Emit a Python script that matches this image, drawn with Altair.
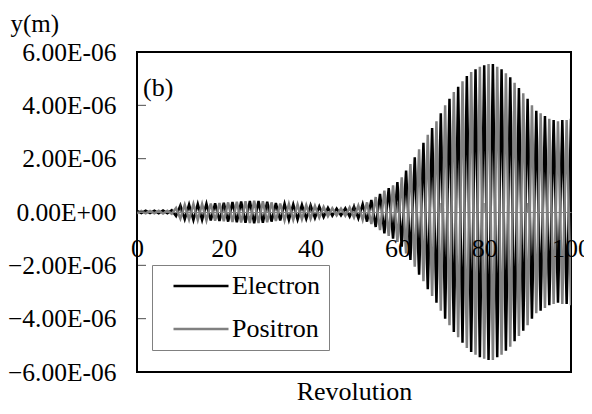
import altair as alt
import pandas as pd

# ---------------- data ----------------
revolution = list(range(0, 101))

# vertical offset y in micrometres, one sample per revolution
electron_um = [
    0.04, -0.04, 0.05, -0.04, 0.05, -0.05, 0.06, -0.05, 0.07, -0.15,
    0.25, -0.27, 0.28, -0.30, 0.30, -0.30, 0.31, -0.32, 0.33, -0.34,
    0.35, -0.36, 0.37, -0.38, 0.39, -0.40, 0.41, -0.42, 0.41, -0.40,
    0.38, -0.36, 0.34, -0.32, 0.31, -0.30, 0.29, -0.28, 0.27, -0.26,
    0.25, -0.23, 0.21, -0.19, 0.16, -0.14, 0.13, -0.13, 0.14, -0.17,
    0.20, -0.24, 0.29, -0.36, 0.45, -0.56, 0.68, -0.80, 0.90, -1.00,
    1.12, -1.30, 1.55, -1.80, 2.05, -2.35, 2.60, -2.90, 3.15, -3.40,
    3.70, -4.00, 4.25, -4.50, 4.70, -4.90, 5.10, -5.25, 5.35, -5.45,
    5.50, -5.55, 5.55, -5.45, 5.35, -5.20, 5.05, -4.85, 4.65, -4.45,
    4.25, -4.00, 3.80, -3.70, 3.60, -3.50, 3.45, -3.40, 3.45, -3.45,
    3.50,
]
positron_um = [
    -0.04, 0.04, -0.05, 0.04, -0.05, 0.05, -0.06, 0.05, -0.07, 0.15,
    -0.25, 0.27, -0.28, 0.30, -0.30, 0.30, -0.31, 0.32, -0.33, 0.34,
    -0.35, 0.36, -0.37, 0.38, -0.39, 0.40, -0.41, 0.42, -0.41, 0.40,
    -0.38, 0.36, -0.34, 0.32, -0.31, 0.30, -0.29, 0.28, -0.27, 0.26,
    -0.25, 0.23, -0.21, 0.19, -0.16, 0.14, -0.13, 0.13, -0.14, 0.17,
    -0.20, 0.24, -0.29, 0.36, -0.45, 0.56, -0.68, 0.80, -0.90, 1.00,
    -1.12, 1.30, -1.55, 1.80, -2.05, 2.35, -2.60, 2.90, -3.15, 3.40,
    -3.70, 4.00, -4.25, 4.50, -4.70, 4.90, -5.10, 5.25, -5.35, 5.45,
    -5.50, 5.55, -5.55, 5.45, -5.35, 5.20, -5.05, 4.85, -4.65, 4.45,
    -4.25, 4.00, -3.80, 3.70, -3.60, 3.50, -3.45, 3.40, -3.45, 3.45,
    -3.50,
]

series_names = ["Electron", "Positron"]
series_colors = ["#000000", "#808080"]
panel_label = "(b)"

y_tick_values_um = [-6, -4, -2, 0, 2, 4, 6]
x_label_values = [0, 20, 40, 60, 80, 100]
x_minor_ticks = [10, 20, 30, 40, 50, 60, 70, 80, 90]

FONT = "Liberation Serif"
FS = 26
W, H = 434, 320

# ---------------- tables ----------------
rows = []
for name, vals in zip(series_names, [electron_um, positron_um]):
    for r, v in zip(revolution, vals):
        rows.append({"rev": r, "y": v * 1e-6, "series": name})
df = pd.DataFrame(rows)

yt = pd.DataFrame({"y": [v * 1e-6 for v in y_tick_values_um]})
xt = pd.DataFrame({"rev": x_minor_ticks})

xscale = alt.Scale(domain=[0, 100], nice=False, zero=False)
yscale = alt.Scale(domain=[-6e-6, 6e-6], nice=False, zero=False)

x_axis = alt.Axis(
    values=x_label_values,
    title="Revolution",
    titleFont=FONT,
    titleFontSize=FS,
    titleFontWeight="normal",
    titleColor="black",
    titleY=187,
    titleBaseline="alphabetic",
    labelFont=FONT,
    labelFontSize=FS,
    labelColor="black",
    labelPadding=23,
    labelFlush=False,
    labelOverlap=False,
    ticks=False,
    grid=False,
    domainColor="#808080",
    domainWidth=1,
    offset=-H / 2,
    zindex=1,
)

y_axis = alt.Axis(
    values=[v * 1e-6 for v in y_tick_values_um],
    labelExpr="abs(datum.value) < 1e-12 ? '0.00E+00' : format(datum.value*1e6, '.2f') + 'E-06'",
    title="y(m)",
    titleFont=FONT,
    titleFontSize=25,
    titleFontWeight="normal",
    titleColor="black",
    titleAngle=0,
    titleAlign="left",
    titleBaseline="alphabetic",
    titleX=-127,
    titleY=-21,
    labelFont=FONT,
    labelFontSize=25.5,
    labelColor="black",
    labelPadding=21,
    ticks=False,
    domain=False,
    grid=False,
)

legend = alt.Legend(
    title=None,
    orient="none",
    legendX=15,
    legendY=213,
    fillColor="white",
    strokeColor="#808080",
    padding=8,
    symbolType="M-2.75,0L2.75,0",
    symbolSize=400,
    symbolStrokeWidth=2.5,
    symbolOffset=28,
    labelFont=FONT,
    labelFontSize=FS,
    labelColor="black",
    labelOffset=18,
    labelLimit=0,
    rowPadding=17,
)

lines = alt.Chart(df).mark_line(strokeWidth=2.5, clip=True).encode(
    x=alt.X("rev:Q", scale=xscale, axis=x_axis),
    y=alt.Y("y:Q", scale=yscale, axis=y_axis),
    color=alt.Color(
        "series:N",
        scale=alt.Scale(domain=series_names, range=series_colors),
        legend=legend,
    ),
)

yticks = alt.Chart(yt).mark_tick(
    orient="horizontal", size=9, thickness=1, color="black", xOffset=4.5
).encode(
    x=alt.datum(0),
    y=alt.Y("y:Q"),
)

xticks = alt.Chart(xt).mark_tick(
    orient="vertical", size=9, thickness=1, color="#404040", yOffset=-4.5
).encode(
    x=alt.X("rev:Q"),
    y=alt.datum(0),
)

label_b = alt.Chart(pd.DataFrame({"t": [panel_label]})).mark_text(
    align="left", baseline="middle", font=FONT, fontSize=FS, color="black"
).encode(
    text="t:N",
    x=alt.value(6),
    y=alt.value(36),
)

chart = (
    alt.layer(lines, xticks, yticks, label_b)
    .properties(
        width=W,
        height=H,
        autosize=alt.AutoSizeParams(type="none"),
        padding={"left": 129, "top": 44, "right": 13, "bottom": 34},
    )
    .configure(font=FONT)
    .configure_view(stroke="black", strokeWidth=2)
)

chart.save("out.html", embed_options={"renderer": "svg", "actions": False})
